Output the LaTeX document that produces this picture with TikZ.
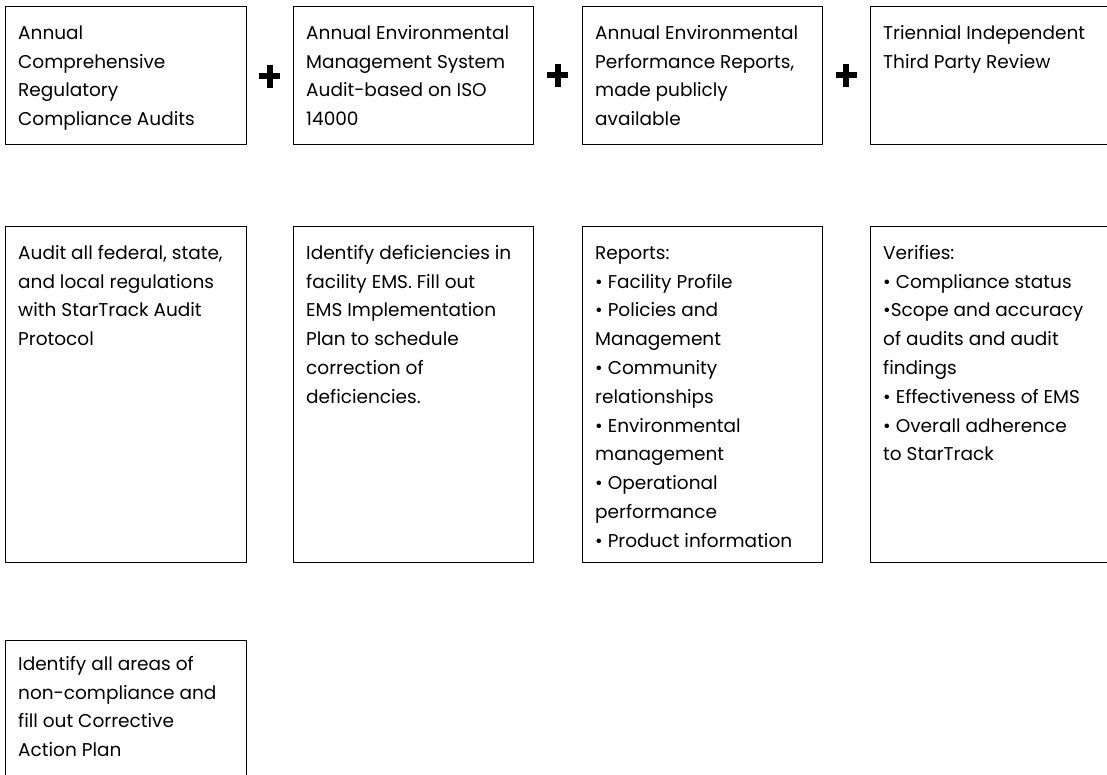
\documentclass[tikz,border=0pt]{standalone}
\usepackage{fontspec}
\setmainfont{Poppins}
\begin{document}
\begin{tikzpicture}[x=1pt,y=-1pt,
  box/.style={draw=black,line width=0.8pt,rectangle,inner sep=0pt,anchor=north west},
  txt/.style={anchor=north west,inner sep=0pt,align=left,
    font=\fontsize{18.5}{28.8}\selectfont},
  plusarm/.style={line width=6pt,black}]
\clip (0,0) rectangle (1107,774);
\fill[white] (0,0) rectangle (1107,774);
\newcommand{\fs}{\rule{0pt}{20pt}}
% row 1
\node[box,minimum width=241pt,minimum height=138pt] (b11) at (5,6) {};
\node[box,minimum width=240pt,minimum height=138pt] (b12) at (293,6) {};
\node[box,minimum width=240pt,minimum height=138pt] (b13) at (582,6) {};
\node[box,minimum width=260pt,minimum height=138pt] (b14) at (870,6) {};
% row 2
\node[box,minimum width=241pt,minimum height=336pt] (b21) at (5,226) {};
\node[box,minimum width=240pt,minimum height=336pt] (b22) at (293,226) {};
\node[box,minimum width=240pt,minimum height=336pt] (b23) at (582,226) {};
\node[box,minimum width=260pt,minimum height=336pt] (b24) at (870,226) {};
% row 3
\node[box,minimum width=241pt,minimum height=160pt] (b31) at (5,640) {};
% texts
\node[txt] (t11) at ([xshift=13pt,yshift=-13pt]b11.north west) {\fs Annual\\Comprehensive\\Regulatory\\Compliance Audits};
\node[txt] (t12) at ([xshift=13pt,yshift=-13pt]b12.north west) {\fs Annual Environmental\\Management System\\Audit-based on ISO\\14000};
\node[txt] (t13) at ([xshift=13pt,yshift=-13pt]b13.north west) {\fs Annual Environmental\\Performance Reports,\\made publicly\\available};
\node[txt] (t14) at ([xshift=13pt,yshift=-13pt]b14.north west) {\fs Triennial Independent\\Third Party Review};
\node[txt] (t21) at ([xshift=13pt,yshift=-13pt]b21.north west) {\fs Audit all federal, state,\\and local regulations\\with StarTrack Audit\\Protocol};
\node[txt] (t22) at ([xshift=13pt,yshift=-13pt]b22.north west) {\fs Identify deficiencies in\\facility EMS. Fill out\\EMS Implementation\\Plan to schedule\\correction of\\deficiencies.};
\node[txt] (t23) at ([xshift=13pt,yshift=-13pt]b23.north west) {\fs Reports:\\• Facility Profile\\• Policies and\\Management\\• Community\\relationships\\• Environmental\\management\\• Operational\\performance\\• Product information};
\node[txt] (t24) at ([xshift=13pt,yshift=-13pt]b24.north west) {\fs Verifies:\\• Compliance status\\•Scope and accuracy\\of audits and audit\\findings\\• Effectiveness of EMS\\• Overall adherence\\to StarTrack};
\node[txt] (t31) at ([xshift=13pt,yshift=-10pt]b31.north west) {\fs Identify all areas of\\non-compliance and\\fill out Corrective\\Action Plan};
% plus signs
\coordinate (p1) at (269.5,76);
\coordinate (p2) at (557.5,75);
\coordinate (p3) at (846,75);
\foreach \p in {p1,p2,p3}{
  \draw[plusarm] ([xshift=-10.5pt]\p) -- ([xshift=10.5pt]\p);
  \draw[plusarm] ([yshift=-11.5pt]\p) -- ([yshift=11.5pt]\p);
}
\end{tikzpicture}
\end{document}
